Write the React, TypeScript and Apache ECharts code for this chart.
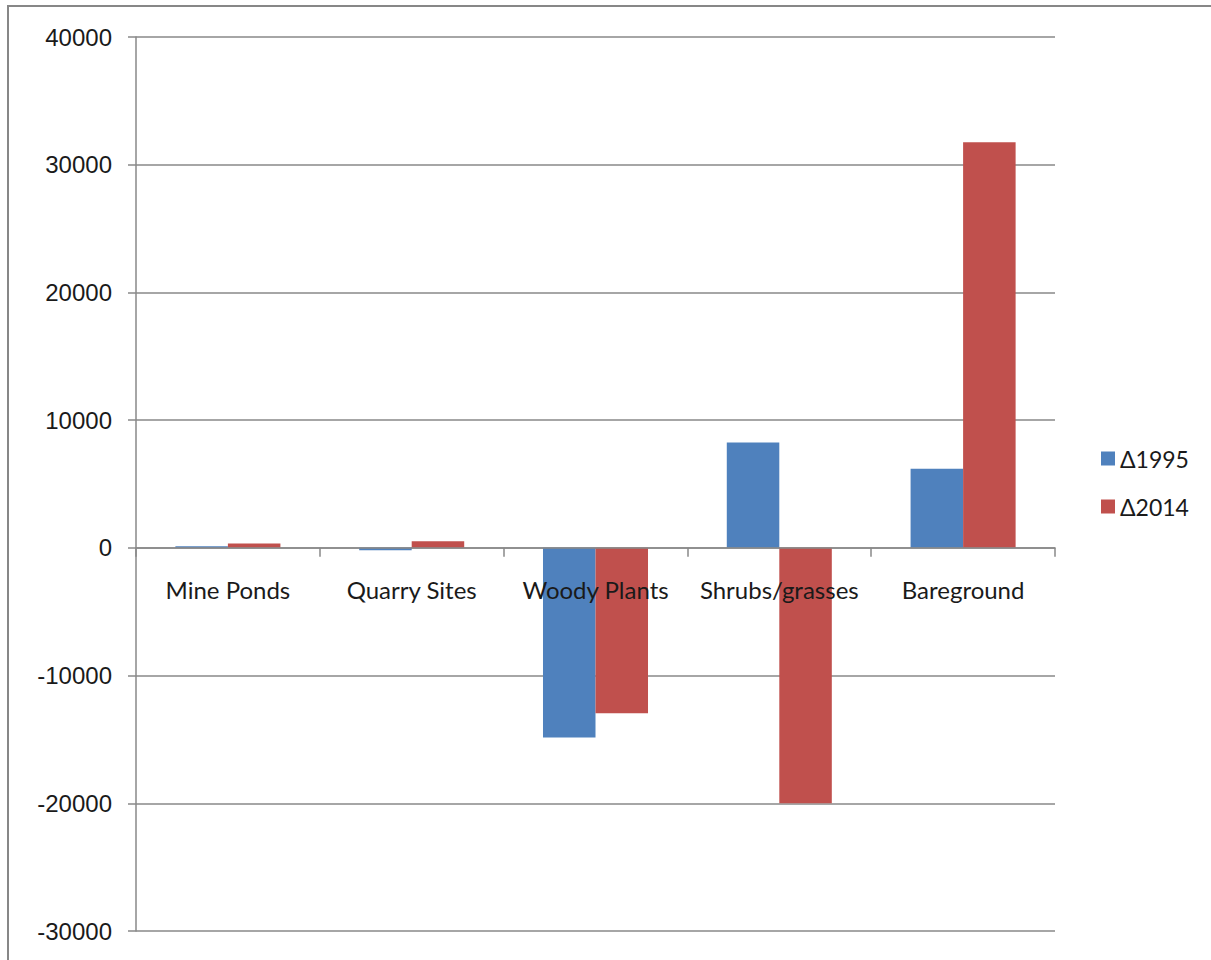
import React, { useEffect, useRef } from "react";
import * as echarts from "echarts";

const categories = ["Mine Ponds", "Quarry Sites", "Woody Plants", "Shrubs/grasses", "Bareground"];
const delta1995 = [130, -180, -14850, 8250, 6200];
const delta2014 = [350, 520, -12950, -20000, 31750];
const seriesNames = ["Δ1995", "Δ2014"];
const seriesColors = ["#4F81BD", "#C0504D"];
const yMin = -30000;
const yMax = 40000;

export default function App() {
  const ref = useRef<HTMLDivElement>(null);
  useEffect(() => {
    const chart = echarts.init(ref.current!, null, { renderer: "svg" });
    const gridHeight = 894;
    const zeroOffset = -(gridHeight * (0 - yMin)) / (yMax - yMin);
    chart.setOption({
      animation: false,
      backgroundColor: "#ffffff",
      graphic: [
        {
          type: "rect",
          shape: { x: 8, y: 6, width: 1220, height: 1000 },
          style: { fill: "none", stroke: "#878787", lineWidth: 2 },
          silent: true,
        },
      ],
      legend: {
        orient: "vertical",
        left: 1096,
        top: 442,
        itemWidth: 14,
        itemHeight: 14,
        itemGap: 25,
        icon: "rect",
        textStyle: { fontFamily: "Lato", fontSize: 23, color: "#1a1a1a" },
        data: seriesNames,
      },
      grid: {
        left: 136,
        top: 37,
        width: 919,
        height: gridHeight,
        containLabel: false,
        outerBoundsMode: "none",
      },
      xAxis: {
        type: "category",
        data: categories,
        position: "bottom",
        offset: zeroOffset,
        z: 5,
        axisLine: { onZero: false, lineStyle: { color: "#888", width: 1.5 } },
        axisTick: { show: true, length: 9, lineStyle: { color: "#888", width: 1.5 } },
        axisLabel: { fontFamily: "Lato", fontSize: 24, color: "#1a1a1a", margin: 30, interval: 0 },
      },
      yAxis: {
        type: "value",
        min: yMin,
        max: yMax,
        interval: 10000,
        axisLine: { show: true, lineStyle: { color: "#888", width: 1.5 } },
        axisTick: { show: true, length: 8, lineStyle: { color: "#888", width: 1.5 } },
        axisLabel: {
          fontFamily: "Liberation Sans",
          fontSize: 24,
          color: "#1a1a1a",
          margin: 24,
          formatter: (v: number) => String(v),
        },
        splitLine: { show: true, lineStyle: { color: "#888", width: 1.5 } },
      },
      series: [
        {
          name: seriesNames[0],
          type: "bar",
          data: delta1995,
          itemStyle: { color: seriesColors[0] },
          barGap: "0%",
          barCategoryGap: "42.86%",
        },
        {
          name: seriesNames[1],
          type: "bar",
          data: delta2014,
          itemStyle: { color: seriesColors[1] },
          barGap: "0%",
          barCategoryGap: "42.86%",
        },
      ],
    });
    return () => chart.dispose();
  }, []);
  return (
    <div
      ref={ref}
      style={{ position: "absolute", left: 0, top: 0, width: 1211, height: 960 }}
    />
  );
}
